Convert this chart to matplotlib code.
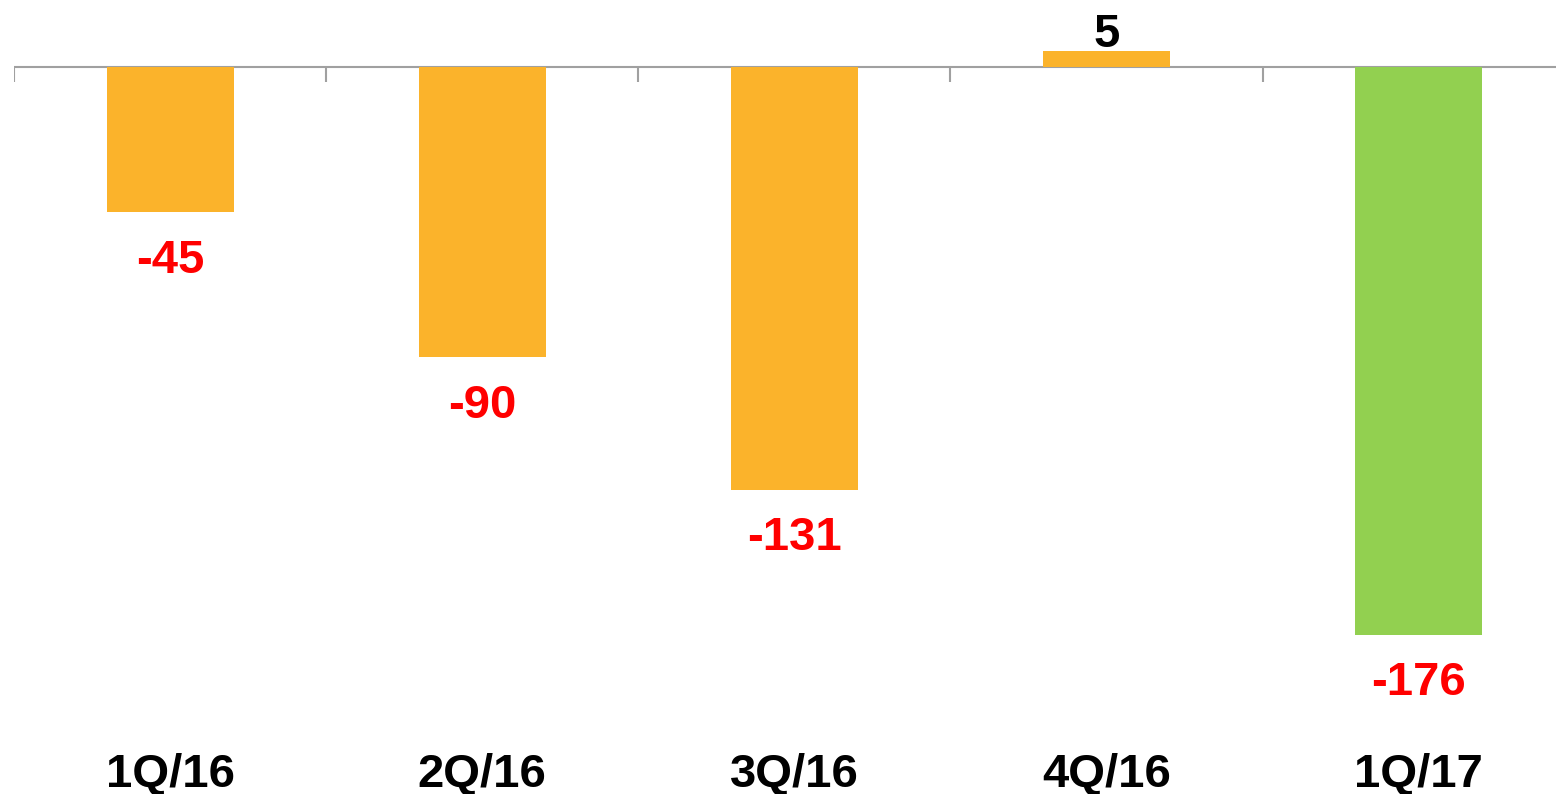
import matplotlib.pyplot as plt
import numpy as np

# quarterly values
quarters = ['1Q/16', '2Q/16', '3Q/16', '4Q/16', '1Q/17']
values = [-45, -90, -131, 5, -176]
colors = ['#FBB32B', '#FBB32B', '#FBB32B', '#FBB32B', '#92D050']

plt.rcParams['font.family'] = ['Liberation Sans', 'DejaVu Sans']

fig = plt.figure(figsize=(15.56, 7.94), dpi=100)
ax = fig.add_axes([14 / 1556, 94 / 794, 1 - 14 / 1556, 700 / 794])

x = np.arange(len(quarters))
ax.bar(x, values, width=0.407, color=colors, zorder=2)

# zero line with short ticks at category boundaries
ax.axhline(0, color='#A0A0A0', lw=1.5, zorder=1)
ax.vlines(x - 0.5, -4.6, 0, color='#A0A0A0', lw=1.5)

for xi, v in zip(x, values):
    if v < 0:
        ax.annotate(str(v), (xi, v), xytext=(0, -19), textcoords='offset points',
                    ha='center', va='top', fontsize=34, fontweight='bold', color='#FF0000')
    else:
        ax.annotate(str(v), (xi, v), xytext=(0, 3), textcoords='offset points',
                    ha='center', va='baseline', fontsize=34, fontweight='bold', color='black')

ax.set_xlim(-0.5, 4.44)
ax.set_ylim(-196.2, 20.76)
ax.set_xticks(x)
ax.set_xticklabels(quarters, fontsize=34, fontweight='bold')
ax.tick_params(axis='x', length=0, pad=38)
ax.set_yticks([])
for s in ax.spines.values():
    s.set_visible(False)

fig.savefig('out.png', dpi=100)
